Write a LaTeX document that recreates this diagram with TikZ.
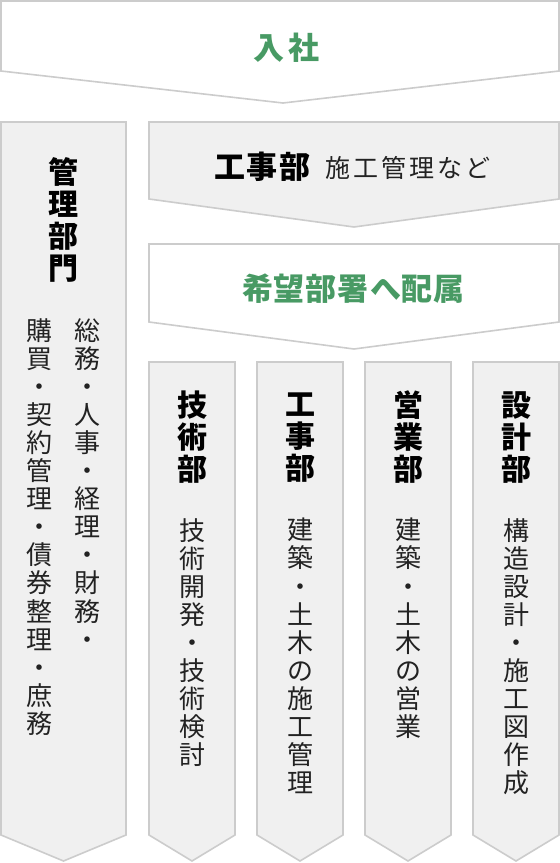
\documentclass[tikz,border=0pt]{standalone}
\usepackage{fontspec}
\newfontfamily\jp{Noto Sans CJK JP}
\definecolor{grn}{RGB}{72,154,100}
\definecolor{edge}{RGB}{204,204,204}
\definecolor{pale}{RGB}{240,240,240}
\definecolor{txt}{RGB}{34,34,34}
\tikzset{
  banner/.style={draw=edge,line width=1.6pt,line join=miter},
  vhead/.style={align=center,inner sep=0pt,font=\jp\bfseries\fontsize{30}{32}\selectfont,text=black},
  vdesc/.style={align=center,inner sep=0pt,anchor=north,font=\jp\fontsize{26}{28.1}\selectfont,text=txt},
  htitle/.style={inner sep=0pt,font=\jp\bfseries\fontsize{31}{34}\selectfont},
}
\begin{document}
\begin{tikzpicture}[x=1pt,y=-1pt]
\useasboundingbox (0,0) rectangle (560,863);
\fill[white] (0,0) rectangle (560,863);
% top banner
\filldraw[banner,fill=white] (1,1) -- (559,1) -- (559,71) -- (283,103) -- (1,71) -- cycle;
\node[htitle,text=grn] (nyusha) at (286,47.5) {入\kern4pt 社};
% 工事部 banner
\filldraw[banner,fill=pale] (149,122) -- (559,122) -- (559,199) -- (354,227) -- (149,199) -- cycle;
\node[htitle,text=black] (koujibu) at (262.5,166.5) {工\kern1.5pt 事\kern1.5pt 部};
\node[inner sep=0pt,font=\jp\fontsize{25}{28}\selectfont,text=txt] (sekou) at (407.5,168) {施\kern3pt 工\kern3pt 管\kern3pt 理\kern3pt な\kern3pt ど};
% 希望部署へ配属 banner
\filldraw[banner,fill=white] (149,244) -- (559,244) -- (559,322) -- (354,349) -- (149,322) -- cycle;
\node[htitle,text=grn] (kibou) at (353.5,289) {希\kern1pt 望\kern1pt 部\kern1pt 署\kern1pt へ\kern1pt 配\kern1pt 属};
% left column
\filldraw[banner,fill=pale] (1,122) -- (126,122) -- (126,835) -- (63.5,861) -- (1,835) -- cycle;
\node[vhead] (kanri) at (63,219.5) {管\\理\\部\\門};
\node[vdesc] (kanriA) at (87,318) {総\\務\\・\\人\\事\\・\\経\\理\\・\\財\\務\\・};
\node[vdesc] (kanriB) at (39,318) {購\\買\\・\\契\\約\\管\\理\\・\\債\\券\\整\\理\\・\\庶\\務};
% bottom columns
\foreach \x in {149,257,365,473}{
  \filldraw[banner,fill=pale] (\x,362) -- (\x+86,362) -- (\x+86,835) -- (\x+43,861) -- (\x,835) -- cycle;
}
\node[vhead] (gijutsu) at (192,437.5) {技\\術\\部};
\node[vdesc] (gijutsuD) at (192,518) {技\\術\\開\\発\\・\\技\\術\\検\\討};
\node[vhead] (kouji) at (300,437.5) {工\\事\\部};
\node[vdesc] (koujiD) at (300,518) {建\\築\\・\\土\\木\\の\\施\\工\\管\\理};
\node[vhead] (eigyou) at (408,437.5) {営\\業\\部};
\node[vdesc] (eigyouD) at (408,518) {建\\築\\・\\土\\木\\の\\営\\業};
\node[vhead] (sekkei) at (516,437.5) {設\\計\\部};
\node[vdesc] (sekkeiD) at (516,518) {構\\造\\設\\計\\・\\施\\工\\図\\作\\成};
\end{tikzpicture}
\end{document}
